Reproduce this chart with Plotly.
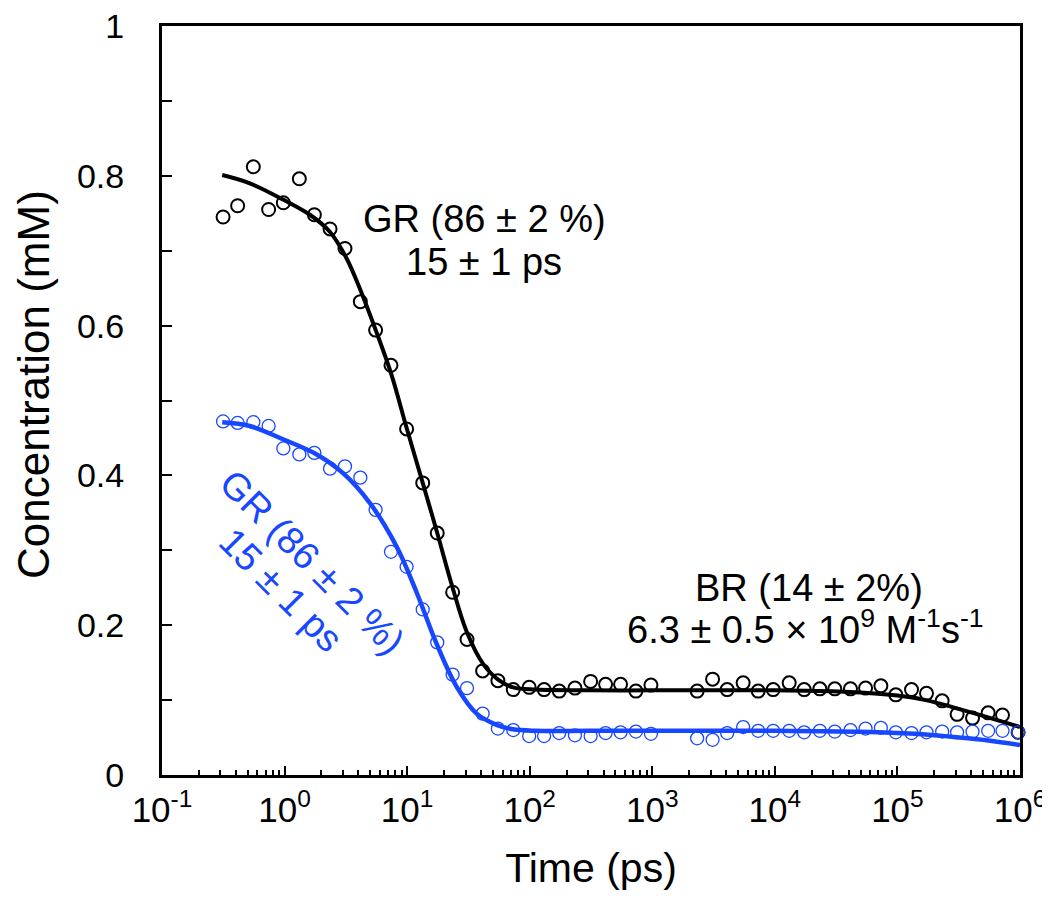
import plotly.graph_objects as go

# ---- data ----
time_ps = [0.315, 0.414, 0.556, 0.741, 0.977, 1.32, 1.75, 2.35, 3.11, 4.15, 5.53, 7.38, 9.9,
           13.4, 17.6, 23.5, 30.8, 41.3, 55, 73.4, 99, 131, 174, 234, 314, 416, 551, 735, 975,
           2323, 3104, 4083, 5510, 7310, 9690, 13090, 17340, 23280, 30830, 41400, 54950,
           73280, 97000, 130300, 172700, 231700, 306900, 410000, 549700, 719800, 965000]

black_conc = [0.745, 0.760, 0.812, 0.755, 0.764, 0.796, 0.748, 0.729, 0.703, 0.632, 0.594, 0.547, 0.462,
              0.390, 0.323, 0.244, 0.181, 0.139, 0.126, 0.114, 0.117, 0.114, 0.112, 0.116, 0.125, 0.121,
              0.121, 0.112, 0.120,
              0.112, 0.128, 0.114, 0.123, 0.112, 0.114, 0.123, 0.114, 0.115, 0.115, 0.115, 0.116,
              0.119, 0.107, 0.114, 0.109, 0.099, 0.081, 0.076, 0.083, 0.080, 0.057]

blue_conc = [0.472, 0.470, 0.471, 0.466, 0.436, 0.428, 0.430, 0.409, 0.412, 0.397, 0.354, 0.298, 0.278,
             0.221, 0.177, 0.134, 0.116, 0.082, 0.062, 0.060, 0.052, 0.052, 0.056, 0.053, 0.052, 0.056,
             0.057, 0.058, 0.055,
             0.049, 0.047, 0.056, 0.064, 0.059, 0.059, 0.059, 0.057, 0.059, 0.058, 0.060, 0.062,
             0.063, 0.057, 0.056, 0.057, 0.058, 0.057, 0.058, 0.059, 0.059, 0.057]

black_fit_t = [0.31, 0.52, 0.98, 1.61, 2.35, 3.2, 4.1, 5.6, 7.5, 9.8, 13.4, 17.6, 23.5, 30.5, 41.8,
               55.6, 73.4, 113, 300, 1000, 3000, 10000, 37000, 100000, 170000, 320000, 550000, 1000000]
black_fit_c = [0.801, 0.790, 0.768, 0.748, 0.725, 0.690, 0.650, 0.592, 0.533, 0.466, 0.390, 0.323, 0.250,
               0.192, 0.148, 0.127, 0.117, 0.114, 0.113, 0.113, 0.113, 0.113, 0.111, 0.106, 0.100,
               0.088, 0.077, 0.064]

blue_fit_t = [0.31, 0.52, 0.98, 1.83, 3.0, 4.97, 8.2, 12.0, 17.3, 25.3, 36.9, 53.7, 73, 113, 300,
              1000, 10000, 70000, 170000, 320000, 550000, 1000000]
blue_fit_c = [0.471, 0.466, 0.448, 0.428, 0.403, 0.363, 0.305, 0.243, 0.176, 0.118, 0.082, 0.067,
              0.061, 0.059, 0.059, 0.059, 0.059, 0.057, 0.054, 0.050, 0.046, 0.040]

x_tick_vals = [0.1, 1, 10, 100, 1000, 10000, 100000, 1000000]
x_tick_text = ["10<sup>-1</sup>", "10<sup>0</sup>", "10<sup>1</sup>", "10<sup>2</sup>",
               "10<sup>3</sup>", "10<sup>4</sup>", "10<sup>5</sup>", "10<sup>6</sup>"]
x_minor_vals = [m * 10 ** e for e in range(-1, 6) for m in range(2, 10)]

BLACK = "#000000"
BLUE = "#1747ff"
FONT = "Arial, Liberation Sans, sans-serif"

fig = go.Figure()
fig.add_trace(go.Scatter(x=black_fit_t, y=black_fit_c, mode="lines",
                         line=dict(color=BLACK, width=4, shape="spline", smoothing=1.0),
                         showlegend=False))
fig.add_trace(go.Scatter(x=blue_fit_t, y=blue_fit_c, mode="lines",
                         line=dict(color=BLUE, width=4.5, shape="spline", smoothing=1.0),
                         showlegend=False))
fig.add_trace(go.Scatter(x=time_ps, y=black_conc, mode="markers", cliponaxis=False,
                         marker=dict(symbol="circle-open", size=13, color=BLACK,
                                     line=dict(width=2, color=BLACK)),
                         showlegend=False))
fig.add_trace(go.Scatter(x=time_ps, y=blue_conc, mode="markers", cliponaxis=False,
                         marker=dict(symbol="circle-open", size=13, color=BLUE,
                                     line=dict(width=1.3, color=BLUE)),
                         showlegend=False))

# page body adds ~8px offset; plot area target in page pixels: x 162..1020, y 26..775
def px_to_paper(px, py):
    return (px - 162) / 858.0, (775 - py) / 749.0

annots = []
for text, (px, py), size, color, ang in [
    ("GR (86 ± 2 %)", (484, 219), 38, BLACK, 0),
    ("15 ± 1 ps", (484, 262), 38, BLACK, 0),
    ("BR (14 ± 2%)", (809, 588), 38, BLACK, 0),
    ("6.3 ± 0.5 × 10<sup>9</sup> M<sup>-1</sup>s<sup>-1</sup>", (805, 627), 38, BLACK, 0),
    ("GR (86 ± 2 %)", (312, 562), 38, BLUE, 45),
    ("15 ± 1 ps", (281, 590), 38, BLUE, 45),
    ("Concentration (mM)", (33, 385), 44, BLACK, -90),
]:
    ax, ay = px_to_paper(px, py)
    annots.append(dict(x=ax, y=ay, xref="paper", yref="paper", text=text, showarrow=False,
                       textangle=ang, xanchor="center", yanchor="middle",
                       font=dict(family=FONT, size=size, color=color)))

fig.update_layout(
    width=1042, height=890,
    margin=dict(l=154, r=30, t=18, b=123),
    paper_bgcolor="white", plot_bgcolor="white",
    font=dict(family=FONT, color=BLACK),
    annotations=annots,
    xaxis=dict(type="log", range=[-1, 6], showgrid=False, zeroline=False, automargin=False,
               showline=True, linewidth=3, linecolor=BLACK, mirror=True,
               ticks="inside", ticklen=9, tickwidth=2, tickcolor=BLACK,
               tickmode="array", tickvals=x_tick_vals, ticktext=x_tick_text,
               tickfont=dict(family=FONT, size=35, color=BLACK),
               ticklabelstandoff=2, ticklabeloverflow="allow",
               minor=dict(tickmode="array", tickvals=x_minor_vals, ticks="inside",
                          ticklen=5, tickwidth=2, tickcolor=BLACK, showgrid=False),
               title=dict(text="Time (ps)", font=dict(family=FONT, size=41, color=BLACK),
                          standoff=26)),
    yaxis=dict(range=[0, 1], showgrid=False, zeroline=False, automargin=False,
               showline=True, linewidth=3, linecolor=BLACK, mirror=True,
               ticks="inside", ticklen=10, tickwidth=2, tickcolor=BLACK,
               dtick=0.2, tick0=0,
               tickfont=dict(family=FONT, size=34, color=BLACK),
               ticklabelstandoff=28, ticklabeloverflow="allow",
               minor=dict(dtick=0.1, ticks="inside", ticklen=10, tickwidth=2,
                          tickcolor=BLACK, showgrid=False)),
)

fig.write_html("out.html")
